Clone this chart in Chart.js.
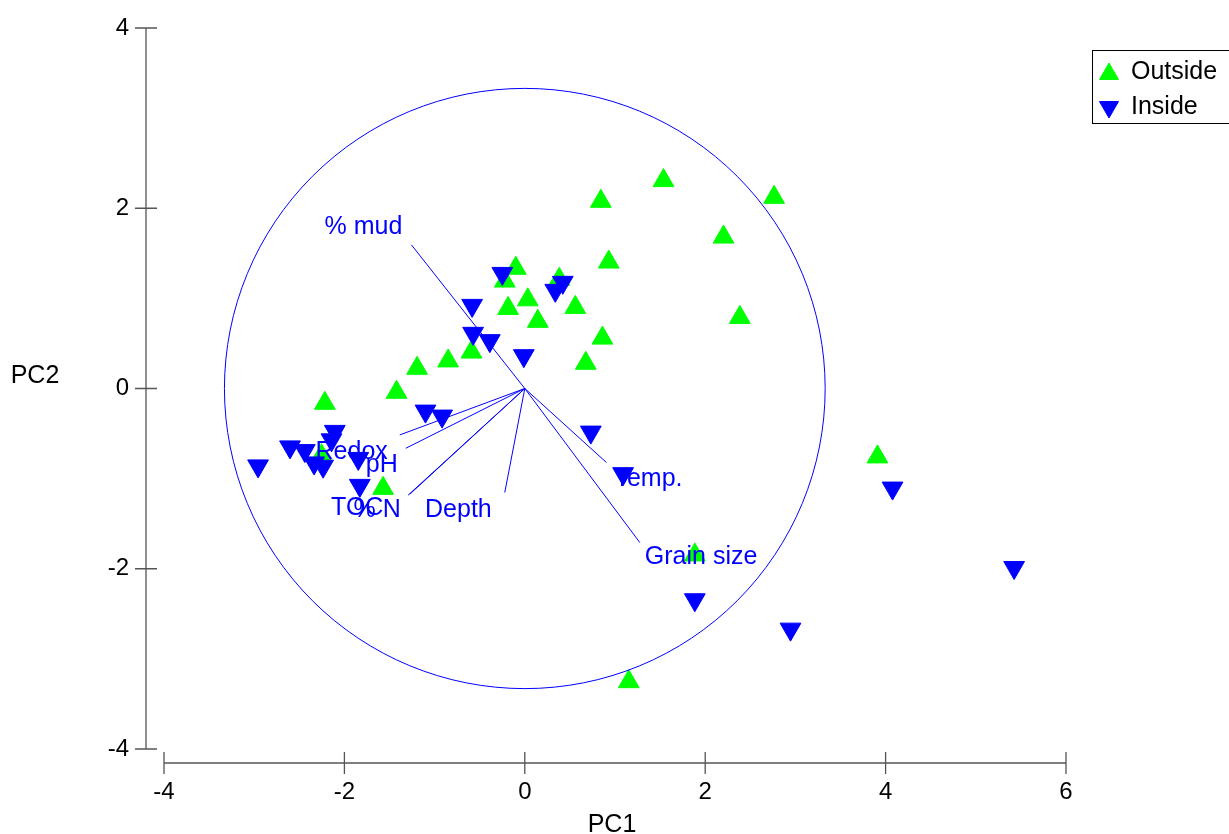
<!DOCTYPE html>
<html>
<head>
<meta charset="utf-8">
<title>PCA biplot</title>
<script src="https://cdn.jsdelivr.net/npm/chart.js@4.4.0/dist/chart.umd.min.js"></script>
<style>
  html, body { margin: 0; padding: 0; background: #fff; }
  #wrap { width: 1229px; height: 834px; position: relative; }
</style>
</head>
<body>
<div id="wrap"><canvas id="pcaChart"></canvas></div>
<script>
// sample scores, stations outside
const outsidePC1 = [-2.217, -1.422, -1.194, -0.850, -0.591, -1.571, -2.254, -0.100, -0.222, 0.033, -0.185, 0.144, 0.382,
                    0.560, 0.861, 0.676, 0.931, 0.843, 1.538, 2.764, 2.203, 2.384, 3.910, 1.885, 1.153];
const outsidePC2 = [-0.164, -0.042, 0.224, 0.306, 0.404, -1.108, -0.745, 1.334, 1.192, 0.984, 0.889, 0.745, 1.211,
                    0.900, 0.559, 0.280, 1.403, 2.077, 2.307, 2.121, 1.680, 0.789, -0.759, -1.847, -3.253];

// sample scores, stations inside
const insidePC1 = [-2.957, -2.603, -2.439, -2.336, -2.236, -2.143, -2.106, -1.846, -1.829, -1.101, -0.917, -0.249,
                   -0.584, -0.573, -0.388, -0.011, 0.421, 0.338, 0.732, 1.090, 1.885, 2.946, 4.077, 5.425];
const insidePC2 = [-0.859, -0.648, -0.689, -0.826, -0.862, -0.570, -0.476, -0.776, -1.075, -0.251, -0.306, 1.277,
                   0.922, 0.612, 0.531, 0.364, 1.178, 1.089, -0.484, -0.945, -2.344, -2.670, -1.105, -1.986];

// environmental variables (vector ends)
const varNames = ['% mud', 'Temp.', 'Grain size', 'Depth', 'Redox', 'pH', 'TOC', '% N'];
const varPC1 = [-1.257, 0.905, 1.275, -0.222, -1.386, -1.319, -1.294, -1.275];
const varPC2 = [1.594, -0.821, -1.709, -1.154, -0.515, -0.663, -1.184, -1.173];

const circleRadius = 3.33;
const xTicks = [-4, -2, 0, 2, 4, 6];
const yTicks = [-4, -2, 0, 2, 4];

const FONT = '"Liberation Sans", Arial, Helvetica, sans-serif';
const GREEN = '#00ff00';
const BLUE = '#0000ff';

// where each vector label sits relative to its line end (px)
const varLabelStyle = {
    '% mud':      { align: 'right', dx: -9,  dy: -18 },
    'Temp.':      { align: 'left',  dx: 8,   dy: 17 },
    'Grain size': { align: 'left',  dx: 5,   dy: 15 },
    'Depth':      { align: 'right', dx: -13, dy: 18 },
    'Redox':      { align: 'right', dx: -12, dy: 17 },
    'pH':         { align: 'right', dx: -8,  dy: 17 },
    'TOC':        { align: 'left',  dx: -77, dy: 13 },
    '% N':        { align: 'right', dx: -9,  dy: 16 }
};

function toPoints(xs, ys) {
    return xs.map((v, i) => ({ x: v, y: ys[i] }));
}

// circle, vectors and their labels, on top of the markers
const biplotOverlay = {
    id: 'biplotOverlay',
    afterDatasetsDraw(chart) {
        const { ctx, scales: { x, y } } = chart;
        const ox = x.getPixelForValue(0);
        const oy = y.getPixelForValue(0);
        ctx.save();
        ctx.strokeStyle = BLUE;
        ctx.lineWidth = 1;

        ctx.beginPath();
        ctx.ellipse(ox, oy,
            x.getPixelForValue(circleRadius) - ox,
            oy - y.getPixelForValue(circleRadius),
            0, 0, Math.PI * 2);
        ctx.stroke();

        ctx.fillStyle = BLUE;
        ctx.font = '25px ' + FONT;
        ctx.textBaseline = 'middle';
        varNames.forEach((name, i) => {
            const ex = x.getPixelForValue(varPC1[i]);
            const ey = y.getPixelForValue(varPC2[i]);
            ctx.beginPath();
            ctx.moveTo(ox, oy);
            ctx.lineTo(ex, ey);
            ctx.stroke();
            const st = varLabelStyle[name];
            ctx.textAlign = st.align;
            ctx.fillText(name, ex + st.dx, ey + st.dy);
        });
        ctx.restore();
    }
};

// detached axes, axis titles and the boxed legend
const frameDecor = {
    id: 'frameDecor',
    afterDraw(chart) {
        const { ctx, chartArea: area, scales: { x, y } } = chart;
        ctx.save();
        ctx.strokeStyle = '#555';
        ctx.lineWidth = 1.3;

        // y axis
        const ax = area.left - 18;
        ctx.beginPath();
        ctx.moveTo(ax, y.getPixelForValue(yTicks[0]));
        ctx.lineTo(ax, y.getPixelForValue(yTicks[yTicks.length - 1]));
        yTicks.forEach(v => {
            const py = y.getPixelForValue(v);
            ctx.moveTo(ax - 11, py);
            ctx.lineTo(ax + 11, py);
        });
        ctx.stroke();

        // x axis
        const ay = area.bottom + 14;
        ctx.beginPath();
        ctx.moveTo(x.getPixelForValue(xTicks[0]), ay);
        ctx.lineTo(x.getPixelForValue(xTicks[xTicks.length - 1]), ay);
        xTicks.forEach(v => {
            const px = x.getPixelForValue(v);
            ctx.moveTo(px, ay - 11);
            ctx.lineTo(px, ay + 11);
        });
        ctx.stroke();

        // titles
        ctx.fillStyle = '#000';
        ctx.font = '25px ' + FONT;
        ctx.textBaseline = 'middle';
        ctx.textAlign = 'center';
        ctx.fillText('PC1', (area.left + area.right) / 2 - 3, area.bottom + 76);
        ctx.fillText('PC2', area.left - 129, y.getPixelForValue(0) - 12);

        // legend
        const lx = 1092, ly = 50;
        ctx.strokeStyle = '#000';
        ctx.lineWidth = 1;
        ctx.strokeRect(lx + 0.5, ly + 0.5, 160, 73);
        chart.data.datasets.slice().reverse().forEach((ds, i) => {
            const cy = ly + 22 + i * 35;
            ctx.fillStyle = ds.backgroundColor;
            ctx.strokeStyle = ds.borderColor;
            Chart.helpers.drawPoint(ctx, {
                pointStyle: 'triangle',
                rotation: ds.pointRotation,
                radius: 11,
                borderWidth: 1
            }, lx + 17, cy + (ds.pointRotation ? 0 : 2));
            ctx.fillStyle = '#000';
            ctx.textAlign = 'left';
            ctx.fillText(ds.label, lx + 39, cy);
        });
        ctx.restore();
    }
};

const ctx = document.getElementById('pcaChart').getContext('2d');
const pcaChart = new Chart(ctx, {
    type: 'scatter',
    data: {
        datasets: [
            {
                label: 'Inside',
                data: toPoints(insidePC1, insidePC2),
                pointStyle: 'triangle',
                pointRotation: 180,
                pointRadius: 12,
                pointHoverRadius: 12,
                backgroundColor: BLUE,
                borderColor: BLUE,
                borderWidth: 1,
                order: 0
            },
            {
                label: 'Outside',
                data: toPoints(outsidePC1, outsidePC2),
                pointStyle: 'triangle',
                pointRotation: 0,
                pointRadius: 12,
                pointHoverRadius: 12,
                backgroundColor: GREEN,
                borderColor: GREEN,
                borderWidth: 1,
                order: 1
            }
        ]
    },
    options: {
        responsive: true,
        maintainAspectRatio: false,
        animation: false,
        layout: { padding: { top: 28, right: 163, bottom: 0, left: 0 } },
        plugins: {
            legend: { display: false },
            tooltip: { enabled: false }
        },
        scales: {
            x: {
                type: 'linear',
                min: -4,
                max: 6,
                afterBuildTicks: s => { s.ticks = xTicks.map(v => ({ value: v })); },
                afterFit: s => { s.height = 85; s.paddingLeft = 0; s.paddingRight = 0; },
                grid: { display: false, drawTicks: false },
                border: { display: false },
                ticks: { color: '#000', font: { family: FONT, size: 24 }, padding: 29 }
            },
            y: {
                type: 'linear',
                min: -4,
                max: 4,
                afterBuildTicks: s => { s.ticks = yTicks.map(v => ({ value: v })); },
                afterFit: s => { s.width = 164; s.paddingTop = 0; s.paddingBottom = 0; },
                grid: { display: false, drawTicks: false },
                border: { display: false },
                ticks: { color: '#000', font: { family: FONT, size: 24 }, padding: 35 }
            }
        }
    },
    plugins: [biplotOverlay, frameDecor]
});
</script>
</body>
</html>
